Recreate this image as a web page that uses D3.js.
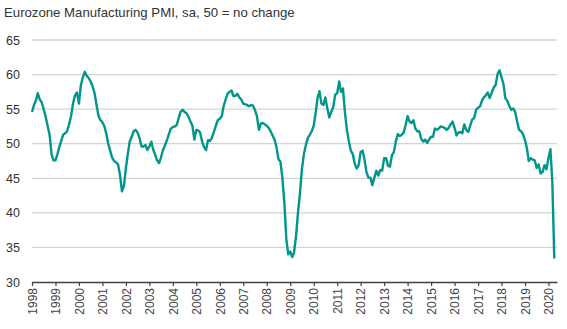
<!DOCTYPE html>
<html><head><meta charset="utf-8">
<script src="https://cdn.jsdelivr.net/npm/d3@7"></script>
<style>
html,body{margin:0;padding:0;background:#fff;}
svg{display:block;font-family:"Liberation Sans",Arial,sans-serif;}
</style></head>
<body><svg id="c" width="567" height="329"></svg>
<script>
const title = "Eurozone Manufacturing PMI, sa, 50 = no change";
const startYear = 1998;
const yTicks = [30, 35, 40, 45, 50, 55, 60, 65];
const tickYears = d3.range(1998, 2021);
// Monthly PMI values, Jan 1998 onward
const pmi1998 = [54.6,55.6,56.2,57.3,56.4,56.0,55.0,53.9,52.6,51.3,48.5,47.6];
const pmi1999 = [47.6,48.5,49.5,50.4,51.3,51.5,51.8,52.8,54.0,55.8,57.0,57.4];
const pmi2000 = [55.8,58.5,59.6,60.4,59.8,59.5,59.0,58.3,57.3,55.6,54.0,53.4];
const pmi2001 = [53.1,52.5,51.5,50.0,49.0,48.0,47.5,47.3,47.0,45.5,43.1,43.9];
const pmi2002 = [46.5,48.6,50.3,51.0,51.8,52.0,51.6,50.8,49.6,49.6,49.8,49.1];
const pmi2003 = [49.6,50.3,49.2,48.4,47.6,47.2,48.0,49.1,49.8,50.5,51.4,52.2];
const pmi2004 = [52.4,52.5,52.7,53.7,54.6,54.9,54.6,54.4,53.9,53.2,52.6,50.6];
const pmi2005 = [52.0,51.9,51.6,50.3,49.5,49.1,50.5,50.4,50.9,51.7,52.6,53.4];
const pmi2006 = [53.6,54.0,55.4,56.4,57.2,57.5,57.7,56.9,56.9,57.2,56.7,56.4];
const pmi2007 = [55.8,55.7,55.6,55.4,55.6,55.5,54.9,54.0,52.0,52.9,53.0,52.8];
const pmi2008 = [52.6,52.3,51.8,51.2,50.6,49.5,47.8,47.4,45.0,41.5,36.2,34.0];
const pmi2009 = [34.4,33.6,34.3,36.6,40.0,42.8,46.3,48.5,49.8,50.8,51.3,51.8];
const pmi2010 = [52.6,54.5,56.6,57.6,55.8,55.6,56.7,55.1,53.8,54.6,55.3,57.1];
const pmi2011 = [57.3,59.0,57.5,58.0,54.6,52.0,50.4,49.0,48.5,47.1,46.4,46.9];
const pmi2012 = [48.8,49.0,47.7,45.9,45.1,45.1,44.0,45.1,46.1,45.4,46.2,46.1];
const pmi2013 = [47.9,47.9,46.8,46.7,48.3,48.8,50.3,51.4,51.1,51.3,51.6,52.7];
const pmi2014 = [54.0,53.2,53.0,53.4,52.2,51.8,51.8,50.7,50.3,50.6,50.1,50.6];
const pmi2015 = [51.0,51.0,52.2,52.0,52.2,52.5,52.4,52.3,52.0,52.3,52.8,53.2];
const pmi2016 = [52.3,51.2,51.6,51.7,51.5,52.8,52.0,51.7,52.6,53.5,53.7,54.9];
const pmi2017 = [55.2,55.4,56.2,56.7,57.0,57.4,56.6,57.4,58.1,58.5,60.1,60.6];
const pmi2018 = [59.6,58.6,56.6,56.2,55.5,54.9,55.1,54.6,53.2,52.0,51.8,51.4];
const pmi2019 = [50.5,49.3,47.5,47.9,47.7,47.6,46.5,47.0,45.7,45.9,46.9,46.3];
const pmi2020 = [47.9,49.2,44.5,33.4];

const values = [].concat(pmi1998,pmi1999,pmi2000,pmi2001,pmi2002,pmi2003,pmi2004,pmi2005,
  pmi2006,pmi2007,pmi2008,pmi2009,pmi2010,pmi2011,pmi2012,pmi2013,pmi2014,pmi2015,
  pmi2016,pmi2017,pmi2018,pmi2019,pmi2020);
const data = values.map((v,i)=>({date:new Date(startYear, i, 1), v}));

const svg = d3.select("#c");
const mLeft = 32, mRight = 557, mTop = 40, mBottom = 282;

const x = d3.scaleTime().domain([new Date(1998,0,1), new Date(2020,4,13)]).range([mLeft, mRight]);
const y = d3.scaleLinear().domain([30,65]).range([mBottom, mTop]);

svg.append("text").attr("x",4).attr("y",17).attr("font-size",13.2).attr("fill","#333")
  .text(title);

// gridlines
svg.append("g").selectAll("line").data(yTicks.filter(t=>t>30)).join("line")
  .attr("x1",mLeft).attr("x2",mRight).attr("y1",d=>y(d)).attr("y2",d=>y(d))
  .attr("stroke","#d4d4d4").attr("stroke-width",1.3);

// y axis labels
const ya = svg.append("g").attr("transform",`translate(${mLeft},0)`)
  .call(d3.axisLeft(y).tickValues(yTicks).tickSize(0).tickPadding(12));
ya.select(".domain").remove();
ya.selectAll("text").attr("font-size",12.5).attr("fill","#333").attr("font-family","Liberation Sans, Arial, sans-serif");

// x axis
const xa = svg.append("g").attr("transform",`translate(0,${mBottom})`)
  .call(d3.axisBottom(x).tickValues(tickYears.map(yv=>new Date(yv,0,1))).tickSize(4).tickSizeOuter(0).tickFormat(d3.timeFormat("%Y")));
xa.select(".domain").attr("stroke","#404040").attr("stroke-width",1.3);
xa.selectAll(".tick line").attr("stroke","#404040").attr("stroke-width",1.2);
xa.selectAll("text").attr("font-size",12).attr("fill","#444")
  .attr("font-family","Liberation Sans, Arial, sans-serif")
  .attr("transform","rotate(-90)").attr("text-anchor","end")
  .attr("x",-6).attr("y",0).attr("dy","0.35em");

// line
svg.append("path").datum(data)
  .attr("fill","none").attr("stroke","#00968a").attr("stroke-width",2.4)
  .attr("stroke-linejoin","round")
  .attr("d", d3.line().x(d=>x(d.date)).y(d=>y(d.v)));
</script></body></html>
